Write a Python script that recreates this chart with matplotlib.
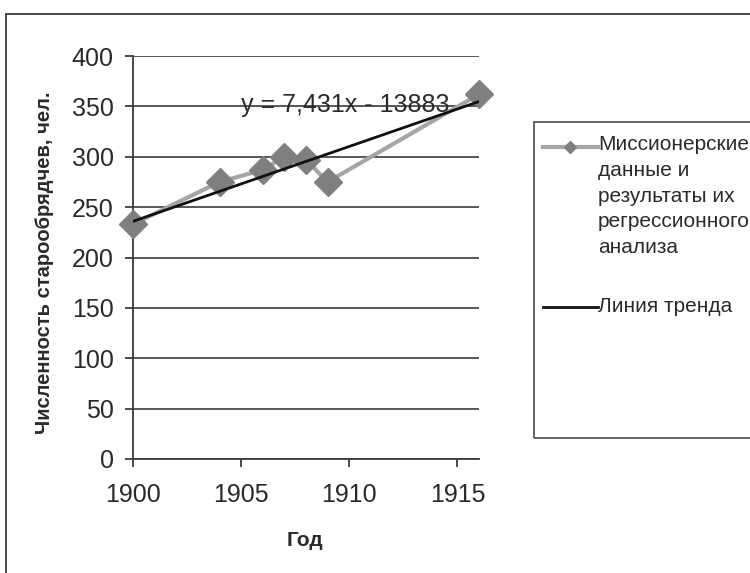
import matplotlib
matplotlib.use("Agg")
import matplotlib.pyplot as plt
from matplotlib.lines import Line2D
from matplotlib.patches import Rectangle

plt.rcParams['font.family'] = ['Liberation Sans', 'DejaVu Sans']

# data
years = [1900, 1904, 1906, 1907, 1908, 1909, 1916]
believers = [233, 275, 287, 300, 297, 275, 362]
trend_slope = 7.431
trend_intercept = -13883
y_ticks = [0, 50, 100, 150, 200, 250, 300, 350, 400]
x_ticks = [1900, 1905, 1910, 1915]

series_label = "Миссионерские\nданные и\nрезультаты их\nрегрессионного\nанализа"
trend_label = "Линия тренда"
equation = "y = 7,431x - 13883"

fig = plt.figure(figsize=(7.5, 5.73), dpi=100)
W, H = 750, 573

# outer chart frame (cropped at right and bottom)
fig.add_artist(Rectangle((6 / W, -0.1), 1.2, 1 - 14 / H + 0.1, transform=fig.transFigure,
                         fill=False, edgecolor="#3c3c3c", linewidth=1.3))

ax = fig.add_axes([133 / W, 1 - 459 / H, (479 - 133) / W, (459 - 56) / H])
ax.set_xlim(1900, 1916)
ax.set_ylim(0, 400)

for s in ["top", "right"]:
    ax.spines[s].set_visible(False)
for s in ["left", "bottom"]:
    ax.spines[s].set_color("#3c3c3c")
    ax.spines[s].set_linewidth(1.3)

ax.set_yticks(y_ticks)
ax.set_xticks(x_ticks)
ax.tick_params(axis="both", direction="out", length=6, width=1.3, color="#3c3c3c",
               labelsize=18, labelcolor="#2a2a2a")
ax.tick_params(axis="y", pad=8)
ax.tick_params(axis="x", pad=11)
ax.yaxis.grid(True, color="#2a2a2a", linewidth=1.1)
ax.set_axisbelow(True)

ax.plot(years, believers, color="#a5a5a5", linewidth=3, marker="D", markersize=14,
        markerfacecolor="#7f7f7f", markeredgecolor="#7f7f7f", clip_on=False, zorder=3)

trend_x = [years[0], years[-1]]
trend_y = [trend_slope * x + trend_intercept for x in trend_x]
ax.plot(trend_x, trend_y, color="#111111", linewidth=2, zorder=4)

ax.text(1905.0, 351, equation, fontsize=18, color="#2a2a2a", va="center", ha="left", zorder=2)

fig.text(45 / W, 1 - 263 / H, "Численность старообрядчев, чел.", rotation=90,
         fontsize=14.5, fontweight="bold", ha="center", va="center", color="#2a2a2a")
fig.text(305 / W, 1 - 541 / H, "Год", fontsize=15, fontweight="bold", ha="center",
         va="center", color="#2a2a2a")

# legend box (cropped at right)
fig.add_artist(Rectangle((534 / W, 1 - 438 / H), 0.5, (438 - 122) / H,
                         transform=fig.transFigure, fill=False, edgecolor="#3c3c3c",
                         linewidth=1.1))
fig.add_artist(Line2D([543 / W, 598 / W], [1 - 147 / H] * 2, transform=fig.transFigure,
                      color="#a5a5a5", linewidth=3))
fig.add_artist(Line2D([570 / W], [1 - 147 / H], transform=fig.transFigure, marker="D",
                      markersize=6, color="#7f7f7f", linestyle="none"))
fig.add_artist(Line2D([543 / W, 598 / W], [1 - 307 / H] * 2, transform=fig.transFigure,
                      color="#111111", linewidth=2))
fig.text(598 / W, 1 - 135 / H, series_label, fontsize=15, va="top", ha="left",
         color="#2a2a2a", linespacing=1.45)
fig.text(598 / W, 1 - 307 / H, trend_label, fontsize=15, va="center", ha="left",
         color="#2a2a2a")

fig.savefig("out.png", dpi=100)
